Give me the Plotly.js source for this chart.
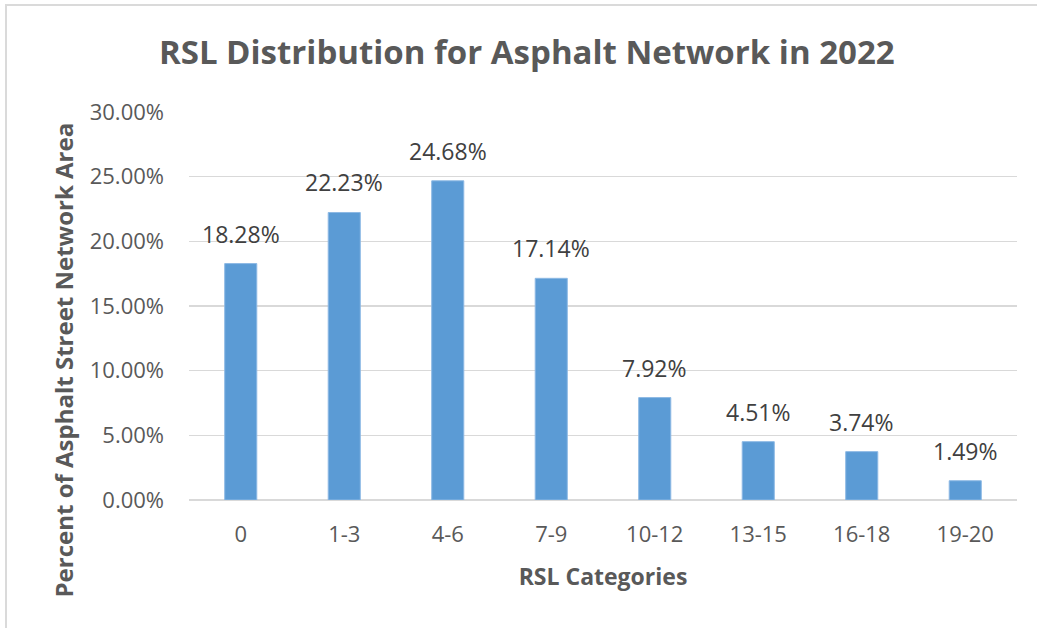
<!DOCTYPE html>
<html>
<head>
<meta charset="utf-8">
<script src="https://cdn.plot.ly/plotly-3.0.1.min.js"></script>
<style>
html,body{margin:0;padding:0;background:#fff;}
#wrap{position:relative;width:1037px;height:628px;}
#chart{position:absolute;left:0;top:0;width:1037px;height:628px;}
#frame{position:absolute;left:5px;top:4px;right:0;bottom:0;border-top:2px solid #DADADA;border-left:2px solid #DADADA;pointer-events:none;}
</style>
</head>
<body>
<div id="wrap"><div id="chart"></div><div id="frame"></div></div>
<script>
const categories = ["0", "1-3", "4-6", "7-9", "10-12", "13-15", "16-18", "19-20"];
const values = [18.28, 22.23, 24.68, 17.14, 7.92, 4.51, 3.74, 1.49];
const tickVals = [0, 5, 10, 15, 20, 25, 30];
const tickText = ["0.00%", "5.00%", "10.00%", "15.00%", "20.00%", "25.00%", "30.00%"];

const FONT = "Open Sans, sans-serif";
const labels = values.map(v => v.toFixed(2) + "%");

const trace = {
  type: "bar",
  x: categories,
  y: values,
  marker: {color: "#5B9BD5", line: {color: "#8DB9E4", width: 1}},
  hoverinfo: "x+y"
};

const annotations = categories.map((c, i) => ({
  x: c, y: values[i], xref: "x", yref: "y",
  text: labels[i], showarrow: false,
  yanchor: "bottom", yshift: 12,
  font: {family: FONT, size: 23, color: "#404040"}
}));
annotations.push({
  xref: "paper", yref: "paper", x: -0.152, y: 0.36,
  text: "<b>Percent of Asphalt Street Network Area</b>",
  textangle: -90, showarrow: false, xanchor: "center", yanchor: "middle",
  font: {family: FONT, size: 24, color: "#595959"}
});

const layout = {
  width: 1037, height: 628,
  margin: {l: 189, r: 20, t: 112, b: 128},
  paper_bgcolor: "#ffffff", plot_bgcolor: "#ffffff",
  showlegend: false,
  bargap: 0.69,
  title: {
    text: "<b>RSL Distribution for Asphalt Network in 2022</b>",
    x: 0.508, xanchor: "center", y: 0.917, yanchor: "middle",
    font: {family: FONT, size: 33, color: "#595959"}
  },
  xaxis: {
    type: "category",
    showgrid: false, zeroline: false, showline: false,
    ticks: "", ticklabelstandoff: 19,
    tickfont: {family: FONT, size: 22, color: "#595959"},
    title: {text: "<b>RSL Categories</b>", standoff: 21,
            font: {family: FONT, size: 23, color: "#595959"}}
  },
  yaxis: {
    range: [0, 30],
    tickvals: tickVals, ticktext: tickText,
    showgrid: true, gridcolor: "#D9D9D9", gridwidth: 1.5,
    zeroline: true, zerolinecolor: "#D9D9D9", zerolinewidth: 1.5,
    showline: false, ticks: "", ticklabelstandoff: 24,
    tickfont: {family: FONT, size: 22, color: "#595959"}
  },
  annotations: annotations
};

Plotly.newPlot("chart", [trace], layout, {displayModeBar: false, staticPlot: true});
</script>
</body>
</html>
